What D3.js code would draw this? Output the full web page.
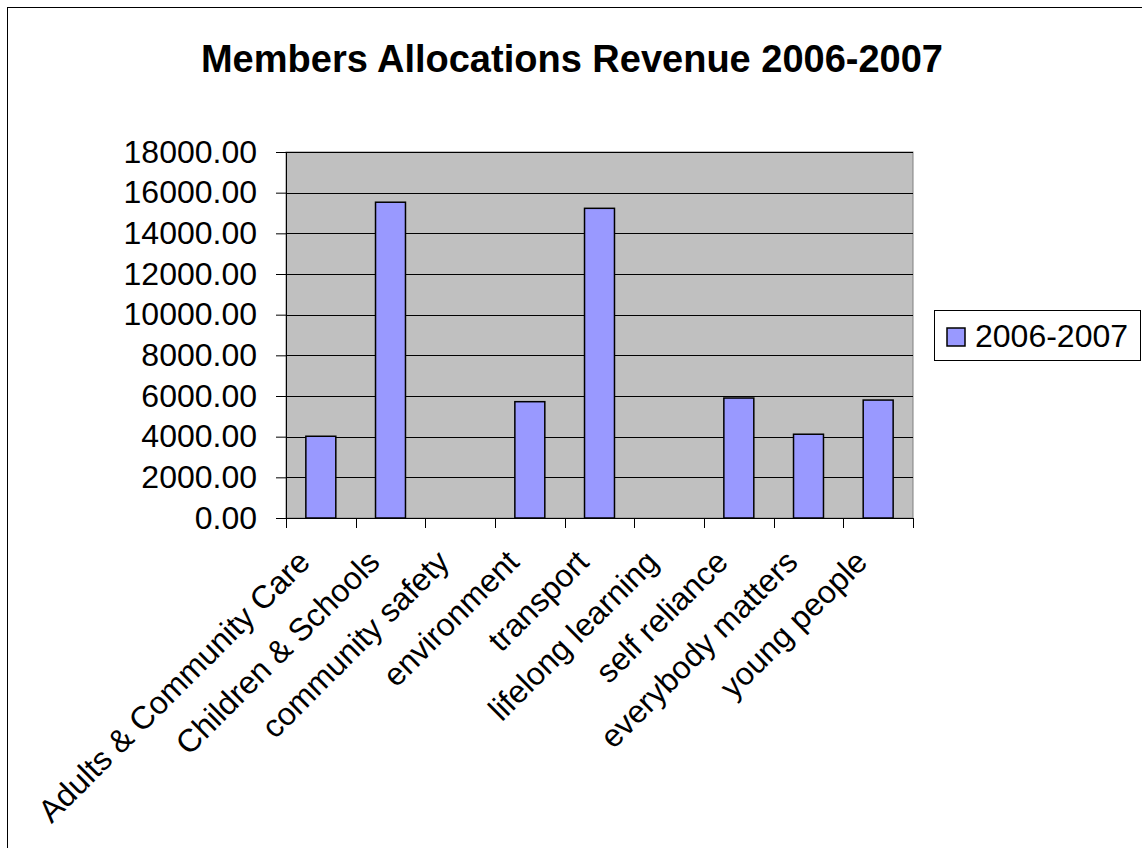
<!DOCTYPE html>
<html>
<head>
<meta charset="utf-8">
<script src="https://cdn.jsdelivr.net/npm/d3@7"></script>
<style>
  body { margin: 0; background: #fff; }
  text { font-family: "Liberation Sans", Arial, sans-serif; }
</style>
</head>
<body>
<script>
// chart data
var categories = ["Adults & Community Care", "Children & Schools", "community safety",
  "environment", "transport", "lifelong learning", "self reliance",
  "everybody matters", "young people"];
var revenue = [4020, 15530, 0, 5720, 15230, 0, 5900, 4120, 5800];
var seriesName = "2006-2007";
var yTicks = [0, 2000, 4000, 6000, 8000, 10000, 12000, 14000, 16000, 18000];
var title = "Members Allocations Revenue 2006-2007";

var W = 1142, H = 848;
var plot = {left: 286, right: 913, top: 152, bottom: 518};

var svg = d3.select("body").append("svg")
  .attr("width", W).attr("height", H);

// outer chart border
svg.append("rect")
  .attr("x", 7.5).attr("y", 7.5)
  .attr("width", W).attr("height", H)
  .attr("fill", "#fff").attr("stroke", "#000").attr("stroke-width", 1);

svg.append("text")
  .attr("x", 572).attr("y", 72)
  .attr("text-anchor", "middle")
  .attr("font-size", 38).attr("font-weight", "bold")
  .text(title);

var x = d3.scaleBand().domain(categories).range([plot.left, plot.right]).padding(0);
var y = d3.scaleLinear().domain([0, 18000]).range([plot.bottom, plot.top]);

// plot background
svg.append("rect")
  .attr("x", plot.left).attr("y", plot.top)
  .attr("width", plot.right - plot.left).attr("height", plot.bottom - plot.top)
  .attr("fill", "#c0c0c0").attr("stroke", "#808080");

// gridlines
svg.append("g").selectAll("line")
  .data(yTicks.filter(function(d){ return d > 0; }))
  .enter().append("line")
  .attr("x1", plot.left).attr("x2", plot.right)
  .attr("y1", function(d){ return Math.round(y(d)) + 0.5; })
  .attr("y2", function(d){ return Math.round(y(d)) + 0.5; })
  .attr("stroke", "#000").attr("stroke-width", 1);

// bars
var bw = x.bandwidth() * 0.43;
svg.append("g").selectAll("rect")
  .data(revenue)
  .enter().append("rect")
  .attr("x", function(d, i){ return x(categories[i]) + (x.bandwidth() - bw) / 2; })
  .attr("y", function(d){ return y(d); })
  .attr("width", bw)
  .attr("height", function(d){ return y(0) - y(d); })
  .attr("fill", "#9999ff").attr("stroke", "#000").attr("stroke-width", 1.5)
  .style("display", function(d){ return d > 0 ? null : "none"; });

// y axis
var yAxis = d3.axisLeft(y).tickValues(yTicks).tickSize(10).tickPadding(19)
  .tickFormat(d3.format(".2f"));
var gy = svg.append("g").attr("transform", "translate(" + plot.left + ",0)").call(yAxis);
gy.selectAll("text").attr("font-size", 32).attr("fill", "#000")
  .attr("font-family", "'Liberation Sans', Arial, sans-serif");
gy.selectAll("line, path").attr("stroke", "#000");

// x axis: ticks at category boundaries
var gx = svg.append("g").attr("transform", "translate(0," + plot.bottom + ")");
gx.append("line").attr("x1", plot.left).attr("x2", plot.right)
  .attr("y1", 0.5).attr("y2", 0.5).attr("stroke", "#000");
var bounds = categories.map(function(c){ return x(c); }).concat([plot.right]);
gx.selectAll("line.tick").data(bounds).enter().append("line")
  .attr("class", "tick")
  .attr("x1", function(d){ return Math.round(d) + 0.5; })
  .attr("x2", function(d){ return Math.round(d) + 0.5; })
  .attr("y1", 0).attr("y2", 10).attr("stroke", "#000");
gx.selectAll("text").data(categories).enter().append("text")
  .attr("transform", function(d){
    var cx = x(d) + x.bandwidth() / 2 - 9;
    return "translate(" + cx + ",46) rotate(-45)";
  })
  .attr("text-anchor", "end")
  .attr("font-size", 32)
  .text(function(d){ return d; });

// legend
var lg = svg.append("g").attr("transform", "translate(934,310)");
lg.append("rect").attr("x", 0.5).attr("y", 0.5).attr("width", 206).attr("height", 50)
  .attr("fill", "#fff").attr("stroke", "#000");
lg.append("rect").attr("x", 13).attr("y", 18).attr("width", 18).attr("height", 18)
  .attr("fill", "#9999ff").attr("stroke", "#000").attr("stroke-width", 1.5);
lg.append("text").attr("x", 41).attr("y", 37).attr("font-size", 32).text(seriesName);
</script>
</body>
</html>
